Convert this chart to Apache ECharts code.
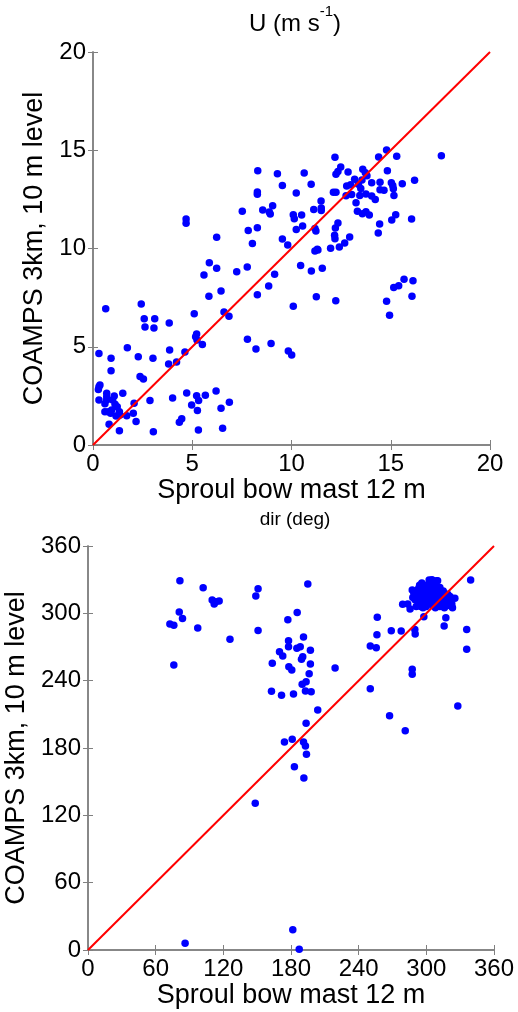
<!DOCTYPE html>
<html>
<head>
<meta charset="utf-8">
<script src="https://cdn.jsdelivr.net/npm/echarts@6/dist/echarts.min.js"></script>
<style>
html,body{margin:0;padding:0;background:#fff;}
#chart{width:518px;height:1012px;}
</style>
</head>
<body>
<div id="chart"></div>
<script>
// ---- Data ----
var speedTicks = [0, 5, 10, 15, 20];
var dirTicks = [0, 60, 120, 180, 240, 300, 360];
var speedDiagonal = [[0, 0], [20, 20]];
var dirDiagonal = [[0, 0], [360, 360]];

// U (m/s): [Sproul bow mast 12 m, COAMPS 3km 10 m level]
var speedPoints = [
[8.30,13.96],[9.29,13.81],[9.54,13.21],[8.28,12.88],[8.28,12.76],[7.52,11.89],[8.55,11.96],[8.88,11.86],
[9.05,12.18],[8.93,11.76],[4.69,11.50],[4.69,11.28],[6.23,10.57],[7.82,10.91],[8.28,11.06],[8.03,10.26],
[9.54,10.48],[9.81,10.18],[14.79,15.01],[14.39,14.66],[15.30,14.69],[17.55,14.72],[12.19,14.64],[12.48,14.15],
[12.24,13.78],[12.34,13.92],[12.85,13.89],[13.59,14.03],[13.72,13.86],[13.80,13.70],[14.83,13.96],[10.64,13.84],
[10.99,13.27],[10.24,12.82],[13.18,13.52],[12.78,13.18],[12.98,13.25],[13.49,13.05],[13.37,13.27],[13.55,13.49],
[14.04,13.35],[14.46,13.37],[15.03,13.35],[15.10,13.20],[15.58,13.30],[16.20,13.47],[14.46,12.99],[14.66,12.97],
[15.13,13.04],[15.16,12.70],[12.11,12.86],[12.24,12.86],[12.75,12.69],[13.03,12.75],[13.44,12.70],[13.75,12.77],
[14.04,12.67],[14.22,12.50],[13.25,12.33],[11.49,12.42],[11.50,12.06],[11.50,11.94],[11.12,11.99],[13.32,11.89],
[13.57,11.77],[13.75,11.87],[13.92,11.70],[10.09,11.72],[10.14,11.52],[10.51,11.70],[15.25,11.72],[15.05,11.45],
[16.05,11.50],[14.44,11.25],[12.34,11.30],[12.21,11.04],[10.56,11.14],[10.24,10.97],[11.18,11.02],[11.23,10.89],
[14.37,10.79],[12.17,10.67],[12.19,10.50],[12.93,10.58],[12.68,10.28],[12.41,10.08],[11.30,9.96],[11.97,10.01],
[11.18,9.87],[11.33,9.92],[10.46,9.14],[11.00,8.85],[11.55,8.99],[11.25,7.55],[12.23,7.34],[10.09,7.06],
[14.79,7.31],[14.94,6.60],[15.15,8.02],[15.40,8.10],[15.67,8.43],[16.12,8.36],[16.07,7.57],[9.84,4.78],
[10.01,4.58],[7.77,9.06],[9.15,8.69],[8.85,8.09],[8.28,7.65],[5.86,9.28],[6.23,8.99],[5.59,8.65],
[7.24,8.82],[6.45,7.84],[5.84,7.57],[0.64,6.94],[2.43,7.18],[5.10,6.68],[6.60,6.77],[6.85,6.55],
[2.58,6.43],[3.11,6.43],[2.62,6.00],[3.07,5.95],[3.84,6.21],[5.22,5.65],[5.17,5.51],[5.24,5.34],
[5.51,5.12],[7.78,5.38],[8.21,4.89],[8.97,5.16],[1.73,4.95],[0.30,4.66],[0.91,4.41],[0.91,3.78],
[2.28,4.49],[3.02,4.41],[3.86,4.83],[4.63,4.73],[4.21,4.22],[3.81,4.12],[2.37,3.49],[2.54,3.36],
[0.30,2.97],[0.27,2.83],[0.35,3.05],[0.30,2.29],[0.69,2.63],[0.69,2.46],[0.69,2.29],[0.60,2.10],
[1.07,2.49],[0.99,2.29],[1.11,2.07],[1.22,1.95],[1.50,2.63],[0.60,1.69],[0.77,1.69],[0.89,1.61],
[0.94,1.78],[1.33,1.69],[1.36,1.53],[1.16,1.48],[1.70,1.49],[2.03,1.61],[2.07,2.12],[0.81,1.05],
[2.17,1.19],[1.33,0.73],[2.87,2.27],[4.01,2.39],[3.04,0.68],[4.72,2.65],[5.22,2.51],[5.32,2.26],
[5.66,2.53],[6.20,2.75],[4.97,2.04],[5.26,1.75],[6.45,1.87],[6.87,2.17],[4.35,1.16],[4.47,1.34],
[5.31,0.76],[6.53,0.85]
];

// dir (deg): [Sproul bow mast 12 m, COAMPS 3km 10 m level]
var dirPoints = [
[81.5,329.1],[102.1,322.9],[110.1,311.9],[111.9,308.3],[113.4,310.4],[116.3,311.0],[148.8,315.4],[150.8,322.0],
[80.9,301.2],[83.8,295.5],[72.6,290.5],[76.1,289.3],[97.3,286.9],[125.9,276.8],[150.8,284.8],[76.1,254.0],
[177.2,294.3],[177.8,275.6],[177.8,270.3],[169.8,265.8],[172.7,262.0],[163.4,255.5],[178.1,252.5],[180.7,249.5],
[162.7,230.5],[171.6,226.9],[174.2,185.3],[194.9,326.1],[185.5,300.8],[191.1,278.9],[185.2,268.8],[188.2,270.3],
[197.2,267.1],[190.4,261.4],[189.3,259.1],[197.2,254.9],[196.1,246.2],[219.1,251.3],[193.4,239.1],[189.9,236.8],
[192.8,230.8],[197.9,230.2],[182.2,228.1],[203.7,213.9],[193.4,202.0],[181.1,187.8],[191.1,185.3],[192.8,181.8],
[193.7,174.4],[183.0,163.3],[191.4,153.3],[181.6,18.1],[187.3,0.6],[86.1,6.0],[148.3,130.7],[256.5,296.5],
[256.2,281.0],[250.3,270.9],[255.6,269.4],[268.9,284.5],[277.7,284.3],[289.8,285.7],[290.1,281.6],[297.8,297.0],
[317.3,296.1],[315.8,288.7],[335.8,285.7],[335.8,268.0],[339.3,329.7],[287.5,250.1],[287.5,245.7],[250.3,232.9],
[267.4,208.8],[281.3,195.4],[327.9,217.4],
[279,308],[283.5,308.3],[285.6,303.9],[313.7,306.8],[322.6,308.3],[323.2,305.0],[325.3,313.4],[302.5,329.7],
[309,329.1],[287.5,320.8],[290,312],[292,316],[294,310],[295,319],[296,314],[297,322],
[298,308],[299,317],[300,312],[301,325],[302,319],[303,314],[304,309],[305,322],
[306,317],[307,311],[308,326],[309,320],[310,315],[311,309],[312,323],[313,318],
[314,313],[315,320],[316,311],[317,316],[318,313],[319,317],[320,311],[321,315],
[288,314],[289,318],[291,306],[293,322],[295,306],[297,305],[300,306],[303,327],
[305,330],[306,307],[308,305],[310,329],[312,306],[300,321],[298,325],[296,327],
[294,325],[302,310],[304,316],[306,313],[308,318],[310,312],[301,315],[299,320],
[297,311],[309,323],[311,318],[313,310],[315,308],[317,309],[319,307],[316,305]
];

// ---- Chart ----
var FONT = '"Liberation Sans", Arial, Helvetica, sans-serif';
var AXC = '#808080';
var NAME_FS = 27;
var TICK_FS = 24;
var chart = echarts.init(document.getElementById('chart'), null, {renderer: 'canvas'});

function mainX(grid, min, max, interval, name, gap) {
  return {
    gridIndex: grid, type: 'value', min: min, max: max, interval: interval, position: 'bottom',
    name: name, nameLocation: 'middle', nameGap: gap,
    nameTextStyle: {color: '#000', fontSize: NAME_FS, fontFamily: FONT},
    axisLine: {show: true, lineStyle: {color: AXC, width: 1.5}},
    axisTick: {show: true, inside: true, length: 5, lineStyle: {color: AXC}},
    axisLabel: {show: true, color: '#000', fontSize: TICK_FS, fontFamily: FONT, margin: 7},
    splitLine: {show: false}
  };
}
function topX(grid, min, max, interval) {
  return {
    gridIndex: grid, type: 'value', min: min, max: max, interval: interval, position: 'top',
    axisLine: {show: true, lineStyle: {color: AXC, width: 1.5}},
    axisTick: {show: true, inside: true, length: 5, lineStyle: {color: AXC}},
    axisLabel: {show: false}, splitLine: {show: false}
  };
}
function mainY(grid, min, max, interval, name, gap) {
  return {
    gridIndex: grid, type: 'value', min: min, max: max, interval: interval, position: 'left',
    name: name, nameLocation: 'middle', nameGap: gap, nameRotate: 90,
    nameTextStyle: {color: '#000', fontSize: NAME_FS, fontFamily: FONT},
    axisLine: {show: true, lineStyle: {color: AXC, width: 1.5}},
    axisTick: {show: true, inside: true, length: 5, lineStyle: {color: AXC}},
    axisLabel: {show: true, color: '#000', fontSize: TICK_FS, fontFamily: FONT, margin: 7},
    splitLine: {show: false}
  };
}
function rightY(grid, min, max, interval) {
  return {
    gridIndex: grid, type: 'value', min: min, max: max, interval: interval, position: 'right',
    axisLine: {show: true, lineStyle: {color: AXC, width: 1.5}},
    axisTick: {show: true, inside: true, length: 5, lineStyle: {color: AXC}},
    axisLabel: {show: false}, splitLine: {show: false}
  };
}

var option = {
  animation: false,
  backgroundColor: '#fff',
  title: [
    {
      text: '{a|U (m s}{b|-1}{a|)}',
      left: 290, top: -1, textAlign: 'center',
      textStyle: {
        fontWeight: 'normal',
        rich: {
          a: {fontSize: 24, fontFamily: FONT, color: '#000', fontWeight: 'normal', verticalAlign: 'bottom', lineHeight: 32},
          b: {fontSize: 15, fontFamily: FONT, color: '#000', fontWeight: 'normal', verticalAlign: 'top', lineHeight: 32}
        }
      }
    },
    {
      text: 'dir (deg)',
      left: 290, top: 505, textAlign: 'center',
      textStyle: {fontSize: 19, fontFamily: FONT, color: '#000', fontWeight: 'normal'}
    }
  ],
  grid: [
    {left: 93, top: 52, width: 397, height: 393, containLabel: false, outerBoundsMode: 'none'},
    {left: 88, top: 546, width: 406, height: 404, containLabel: false, outerBoundsMode: 'none'}
  ],
  xAxis: [
    mainX(0, 0, 20, 5, 'Sproul bow mast 12 m', 30),
    topX(0, 0, 20, 5),
    mainX(1, 0, 360, 60, 'Sproul bow mast 12 m', 29),
    topX(1, 0, 360, 60)
  ],
  yAxis: [
    mainY(0, 0, 20, 5, 'COAMPS 3km, 10 m level', 40),
    rightY(0, 0, 20, 5),
    mainY(1, 0, 360, 60, 'COAMPS 3km, 10 m level', 40),
    rightY(1, 0, 360, 60)
  ],
  series: [
    {
      type: 'scatter', xAxisIndex: 0, yAxisIndex: 0, data: speedPoints,
      symbol: 'circle', symbolSize: 7.5, itemStyle: {color: '#0000ff', opacity: 1}, silent: true
    },
    {
      type: 'line', xAxisIndex: 0, yAxisIndex: 0, data: speedDiagonal,
      symbol: 'none', lineStyle: {color: '#ff0000', width: 2}, silent: true, z: 3
    },
    {
      type: 'scatter', xAxisIndex: 2, yAxisIndex: 2, data: dirPoints,
      symbol: 'circle', symbolSize: 7.5, itemStyle: {color: '#0000ff', opacity: 1}, silent: true
    },
    {
      type: 'line', xAxisIndex: 2, yAxisIndex: 2, data: dirDiagonal,
      symbol: 'none', lineStyle: {color: '#ff0000', width: 2}, silent: true, z: 3
    }
  ]
};
chart.setOption(option);
</script>
</body>
</html>
